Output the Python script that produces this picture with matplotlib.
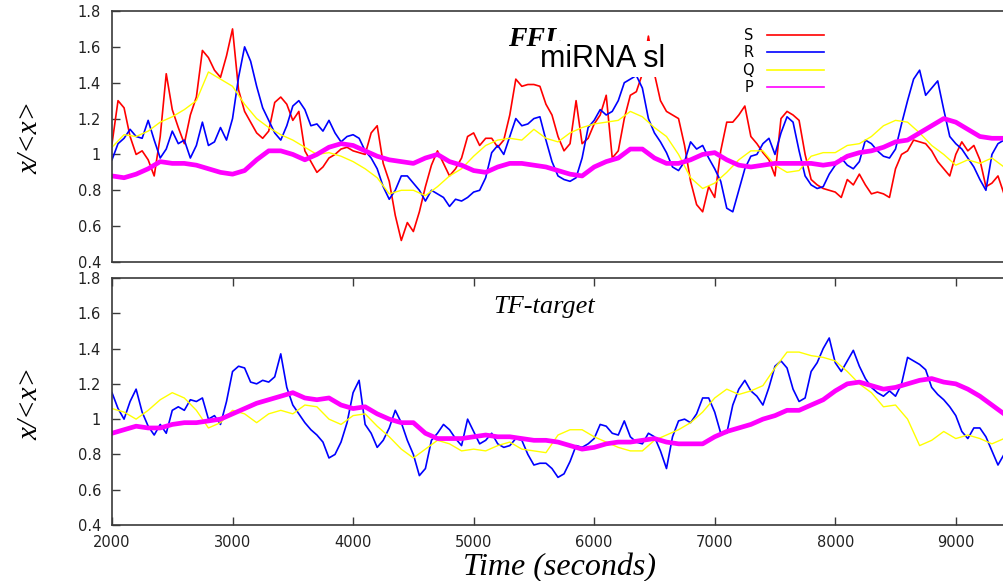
import numpy as np
import matplotlib
matplotlib.use('Agg')
import matplotlib.pyplot as plt

# time grids (seconds)
t50 = np.arange(2000, 9401, 50)
t100 = np.arange(2000, 9401, 100)

# FFL panel
S_ffl = [1.06, 1.30, 1.26, 1.10, 1.00, 1.02, 0.97, 0.88, 1.10, 1.45, 1.25, 1.15, 1.06, 1.22, 1.32, 1.58, 1.54, 1.47, 1.43, 1.55,
         1.70, 1.36, 1.24, 1.18, 1.12, 1.09, 1.13, 1.29, 1.32, 1.28, 1.19, 1.24, 1.02, 0.96, 0.90, 0.93, 0.98, 1.00, 1.03, 1.04,
         1.02, 1.01, 1.00, 1.12, 1.16, 0.95, 0.85, 0.66, 0.52, 0.62, 0.57, 0.68, 0.82, 0.94, 1.02, 0.95, 0.88, 0.92, 0.98, 1.10,
         1.12, 1.05, 1.09, 1.09, 1.04, 1.08, 1.22, 1.42, 1.38, 1.39, 1.39, 1.38, 1.28, 1.22, 1.10, 1.02, 1.06, 1.30, 1.06, 1.09,
         1.17, 1.22, 1.33, 0.98, 1.02, 1.20, 1.33, 1.35, 1.45, 1.66, 1.45, 1.30, 1.24, 1.22, 1.20, 1.05, 0.85, 0.72, 0.68, 0.82,
         0.76, 1.02, 1.18, 1.18, 1.22, 1.27, 1.10, 1.06, 1.01, 0.97, 0.88, 1.20, 1.24, 1.22, 1.19, 1.00, 0.86, 0.83, 0.81, 0.80,
         0.79, 0.76, 0.86, 0.83, 0.89, 0.83, 0.78, 0.79, 0.78, 0.76, 0.92, 1.00, 1.02, 1.08, 1.07, 1.06, 1.02, 0.96, 0.92, 0.88,
         1.00, 1.07, 1.02, 1.05, 0.97, 0.82, 0.84, 0.88, 0.78]
R_ffl = [0.97, 1.06, 1.09, 1.14, 1.10, 1.09, 1.19, 1.08, 0.98, 1.03, 1.13, 1.06, 1.08, 0.98, 1.05, 1.18, 1.05, 1.07, 1.15, 1.08,
         1.20, 1.43, 1.60, 1.52, 1.38, 1.26, 1.19, 1.12, 1.08, 1.16, 1.27, 1.30, 1.25, 1.16, 1.17, 1.13, 1.19, 1.12, 1.07, 1.10,
         1.11, 1.09, 1.02, 0.98, 0.92, 0.82, 0.75, 0.80, 0.88, 0.88, 0.84, 0.80, 0.74, 0.80, 0.78, 0.76, 0.71, 0.75, 0.74, 0.76,
         0.79, 0.80, 0.87, 1.01, 1.05, 1.00, 1.10, 1.20, 1.16, 1.17, 1.20, 1.21, 1.08, 0.96, 0.88, 0.86, 0.85, 0.87, 0.98, 1.15,
         1.19, 1.25, 1.22, 1.24, 1.30, 1.40, 1.42, 1.44, 1.37, 1.20, 1.12, 1.07, 1.01, 0.93, 0.91, 0.96, 1.07, 1.03, 1.05, 0.98,
         0.92, 0.85, 0.70, 0.68, 0.80, 0.92, 0.99, 1.00, 1.06, 1.09, 1.00, 1.12, 1.21, 1.18, 1.02, 0.88, 0.83, 0.81, 0.82, 0.89,
         0.94, 0.98, 0.94, 0.92, 0.96, 1.08, 1.06, 1.02, 0.99, 0.98, 1.03, 1.17, 1.30, 1.42, 1.47, 1.33, 1.37, 1.41, 1.25, 1.10,
         1.06, 1.03, 0.98, 0.93, 0.86, 0.80, 1.00, 1.06, 1.08]
Q_ffl = [1.04, 1.11, 1.10, 1.13, 1.18, 1.21, 1.25, 1.30, 1.46, 1.42,
         1.38, 1.28, 1.20, 1.15, 1.11, 1.08, 1.04, 1.00, 1.01, 0.99,
         0.96, 0.92, 0.87, 0.78, 0.80, 0.80, 0.77, 0.82, 0.88, 0.92,
         0.99, 1.05, 1.08, 1.09, 1.08, 1.14, 1.09, 1.07, 1.12, 1.15,
         1.17, 1.18, 1.19, 1.24, 1.21, 1.15, 1.10, 1.00, 0.87, 0.81,
         0.84, 0.90, 0.97, 1.02, 1.02, 0.94, 0.90, 0.91, 0.99, 1.01,
         1.01, 1.05, 1.06, 1.10, 1.16, 1.19, 1.18, 1.12, 1.05, 1.00,
         0.94, 0.97, 0.95, 0.98, 0.93]
P_ffl = [0.88, 0.87, 0.89, 0.92, 0.96, 0.95, 0.95, 0.94, 0.92, 0.90,
         0.89, 0.91, 0.97, 1.02, 1.02, 1.00, 0.97, 1.00, 1.04, 1.06,
         1.05, 1.02, 0.99, 0.97, 0.96, 0.95, 0.98, 1.00, 0.96, 0.94,
         0.91, 0.90, 0.93, 0.95, 0.95, 0.94, 0.93, 0.91, 0.89, 0.88,
         0.93, 0.96, 0.98, 1.03, 1.03, 0.98, 0.95, 0.95, 0.97, 1.00,
         1.01, 0.97, 0.94, 0.93, 0.94, 0.95, 0.95, 0.95, 0.95, 0.94,
         0.95, 0.99, 1.01, 1.02, 1.04, 1.07, 1.08, 1.12, 1.16, 1.20,
         1.18, 1.14, 1.10, 1.09, 1.09]

# TF-target panel
R_tf = [1.15, 1.06, 1.00, 1.10, 1.17, 1.04, 0.96, 0.91, 0.97, 0.92, 1.05, 1.07, 1.05, 1.11, 1.10, 1.12, 1.00, 1.02, 0.97, 1.10,
        1.27, 1.30, 1.29, 1.21, 1.20, 1.22, 1.21, 1.24, 1.37, 1.18, 1.08, 1.03, 0.98, 0.94, 0.91, 0.87, 0.78, 0.80, 0.87, 0.98,
        1.15, 1.22, 0.97, 0.92, 0.84, 0.88, 0.95, 1.05, 0.98, 0.88, 0.80, 0.68, 0.72, 0.88, 0.92, 0.97, 0.94, 0.89, 0.85, 1.00,
        0.93, 0.86, 0.88, 0.92, 0.86, 0.84, 0.85, 0.89, 0.88, 0.80, 0.74, 0.75, 0.75, 0.72, 0.67, 0.69, 0.76, 0.85, 0.84, 0.86,
        0.89, 0.97, 0.96, 0.92, 0.91, 0.99, 0.90, 0.87, 0.86, 0.92, 0.90, 0.82, 0.72, 0.90, 0.99, 1.00, 0.98, 1.03, 1.12, 1.12,
        1.04, 0.92, 0.92, 1.08, 1.17, 1.22, 1.16, 1.13, 1.08, 1.18, 1.30, 1.33, 1.29, 1.17, 1.10, 1.12, 1.27, 1.32, 1.40, 1.46,
        1.32, 1.27, 1.33, 1.39, 1.30, 1.23, 1.18, 1.15, 1.13, 1.16, 1.13, 1.20, 1.35, 1.33, 1.31, 1.28, 1.18, 1.14, 1.11, 1.07,
        1.02, 0.93, 0.89, 0.95, 0.95, 0.90, 0.82, 0.74, 0.80]
Q_tf = [1.06, 1.04, 1.00, 1.05, 1.11, 1.15, 1.12, 1.05, 0.95, 0.98,
        1.05, 1.03, 0.98, 1.03, 1.05, 1.03, 1.08, 1.07, 1.00, 0.97,
        1.02, 1.03, 0.96, 0.90, 0.83, 0.78, 0.83, 0.88, 0.86, 0.82,
        0.83, 0.82, 0.85, 0.87, 0.83, 0.82, 0.81, 0.91, 0.94, 0.94,
        0.90, 0.87, 0.84, 0.82, 0.82, 0.88, 0.91, 0.94, 0.98, 1.04,
        1.12, 1.17, 1.14, 1.16, 1.19, 1.29, 1.38, 1.38, 1.36, 1.35,
        1.33, 1.27, 1.20, 1.15, 1.07, 1.08, 1.00, 0.85, 0.88, 0.93,
        0.89, 0.91, 0.89, 0.86, 0.89]
P_tf = [0.92, 0.94, 0.96, 0.95, 0.95, 0.97, 0.98, 0.98, 0.99, 1.00,
        1.03, 1.06, 1.09, 1.11, 1.13, 1.15, 1.12, 1.11, 1.12, 1.08,
        1.06, 1.07, 1.03, 1.00, 0.98, 0.98, 0.92, 0.89, 0.89, 0.89,
        0.90, 0.91, 0.90, 0.90, 0.89, 0.88, 0.88, 0.87, 0.85, 0.83,
        0.84, 0.86, 0.87, 0.87, 0.88, 0.89, 0.87, 0.86, 0.86, 0.86,
        0.90, 0.93, 0.95, 0.97, 1.00, 1.02, 1.05, 1.05, 1.08, 1.11,
        1.16, 1.20, 1.21, 1.19, 1.17, 1.18, 1.20, 1.22, 1.23, 1.21,
        1.20, 1.17, 1.13, 1.08, 1.03]

yticks = [0.4, 0.6, 0.8, 1.0, 1.2, 1.4, 1.6, 1.8]
ytick_labels = ['0.4', '0.6', '0.8', '1', '1.2', '1.4', '1.6', '1.8']
xticks = [2000, 3000, 4000, 5000, 6000, 7000, 8000, 9000]

RED, BLUE, YEL, MAG = '#ff0000', '#0000ff', '#ffff00', '#ff00ff'
serif = dict(family='Liberation Serif', style='italic')

W, H = 1004, 581
fig = plt.figure(figsize=(W / 100, H / 100), dpi=100)
ax1 = fig.add_axes([112 / W, 1 - 262 / H, 1 - 112 / W, 251 / H])
ax2 = fig.add_axes([112 / W, 1 - 525 / H, 1 - 112 / W, 247 / H])

for ax in (ax1, ax2):
    ax.set_xlim(2000, 9400)
    ax.set_ylim(0.4, 1.8)
    ax.set_yticks(yticks)
    ax.set_yticklabels(ytick_labels)
    ax.set_xticks(xticks)
    for s in ax.spines.values():
        s.set_color('#3a3a3a')
        s.set_linewidth(1.2)
    ax.spines['right'].set_visible(False)
    ax.tick_params(axis='y', direction='in', length=6, width=1, color='#3a3a3a',
                   pad=8, labelsize=10.5, labelcolor='#222222')
    for lab in ax.get_yticklabels():
        lab.set_family('DejaVu Sans')

ax1.tick_params(axis='x', bottom=False, labelbottom=False)
ax2.tick_params(axis='x', direction='in', length=6, width=1, color='#3a3a3a',
                top=True, pad=7, labelsize=10.5, labelcolor='#222222')
for lab in ax2.get_xticklabels():
    lab.set_family('DejaVu Sans')

ax1.plot(t50, S_ffl, color=RED, lw=1.2, label='S')
ax1.plot(t50, R_ffl, color=BLUE, lw=1.2, label='R')
ax1.plot(t100, Q_ffl, color=YEL, lw=1.0, label='Q')
ax1.plot(t100, P_ffl, color=MAG, lw=3.4, label='P')

ax2.plot(t50, R_tf, color=BLUE, lw=1.2)
ax2.plot(t100, Q_tf, color=YEL, lw=1.0)
ax2.plot(t100, P_tf, color=MAG, lw=3.4)

leg = ax1.legend(loc='upper left', bbox_to_anchor=((742 - 112) / 892, 1 - (28 - 11) / 251),
                 frameon=False, markerfirst=False, fontsize=10.5, handlelength=3.9,
                 handletextpad=0.9, labelspacing=0.17, borderpad=0, borderaxespad=0)
for line in leg.get_lines():
    line.set_linewidth(1.2)

# titles
ax1.text((535 - 112) / 892, 1 - (46 - 11) / 251, 'FFL', ha='center', va='baseline',
         fontsize=20, fontweight='bold', transform=ax1.transAxes, **serif)
fig.text(540 / W, 1 - 67 / H, 'miRNA sl', ha='left', va='baseline', fontsize=22,
         family='Liberation Sans', color='black',
         bbox=dict(facecolor='white', edgecolor='none', pad=2.5))
ax2.text((544 - 112) / 892, 1 - (313 - 278) / 247, 'TF-target', ha='center', va='baseline',
         fontsize=19, transform=ax2.transAxes, **serif)

fig.text(30 / W, 1 - 137 / H, 'x/<x>', rotation=90, ha='center', va='center', fontsize=21, **serif)
fig.text(30 / W, 1 - 403 / H, 'x/<x>', rotation=90, ha='center', va='center', fontsize=21, **serif)
fig.text(560 / W, 1 - 575 / H, 'Time (seconds)', ha='center', va='baseline', fontsize=23, **serif)

fig.savefig('out.png', dpi=100)
